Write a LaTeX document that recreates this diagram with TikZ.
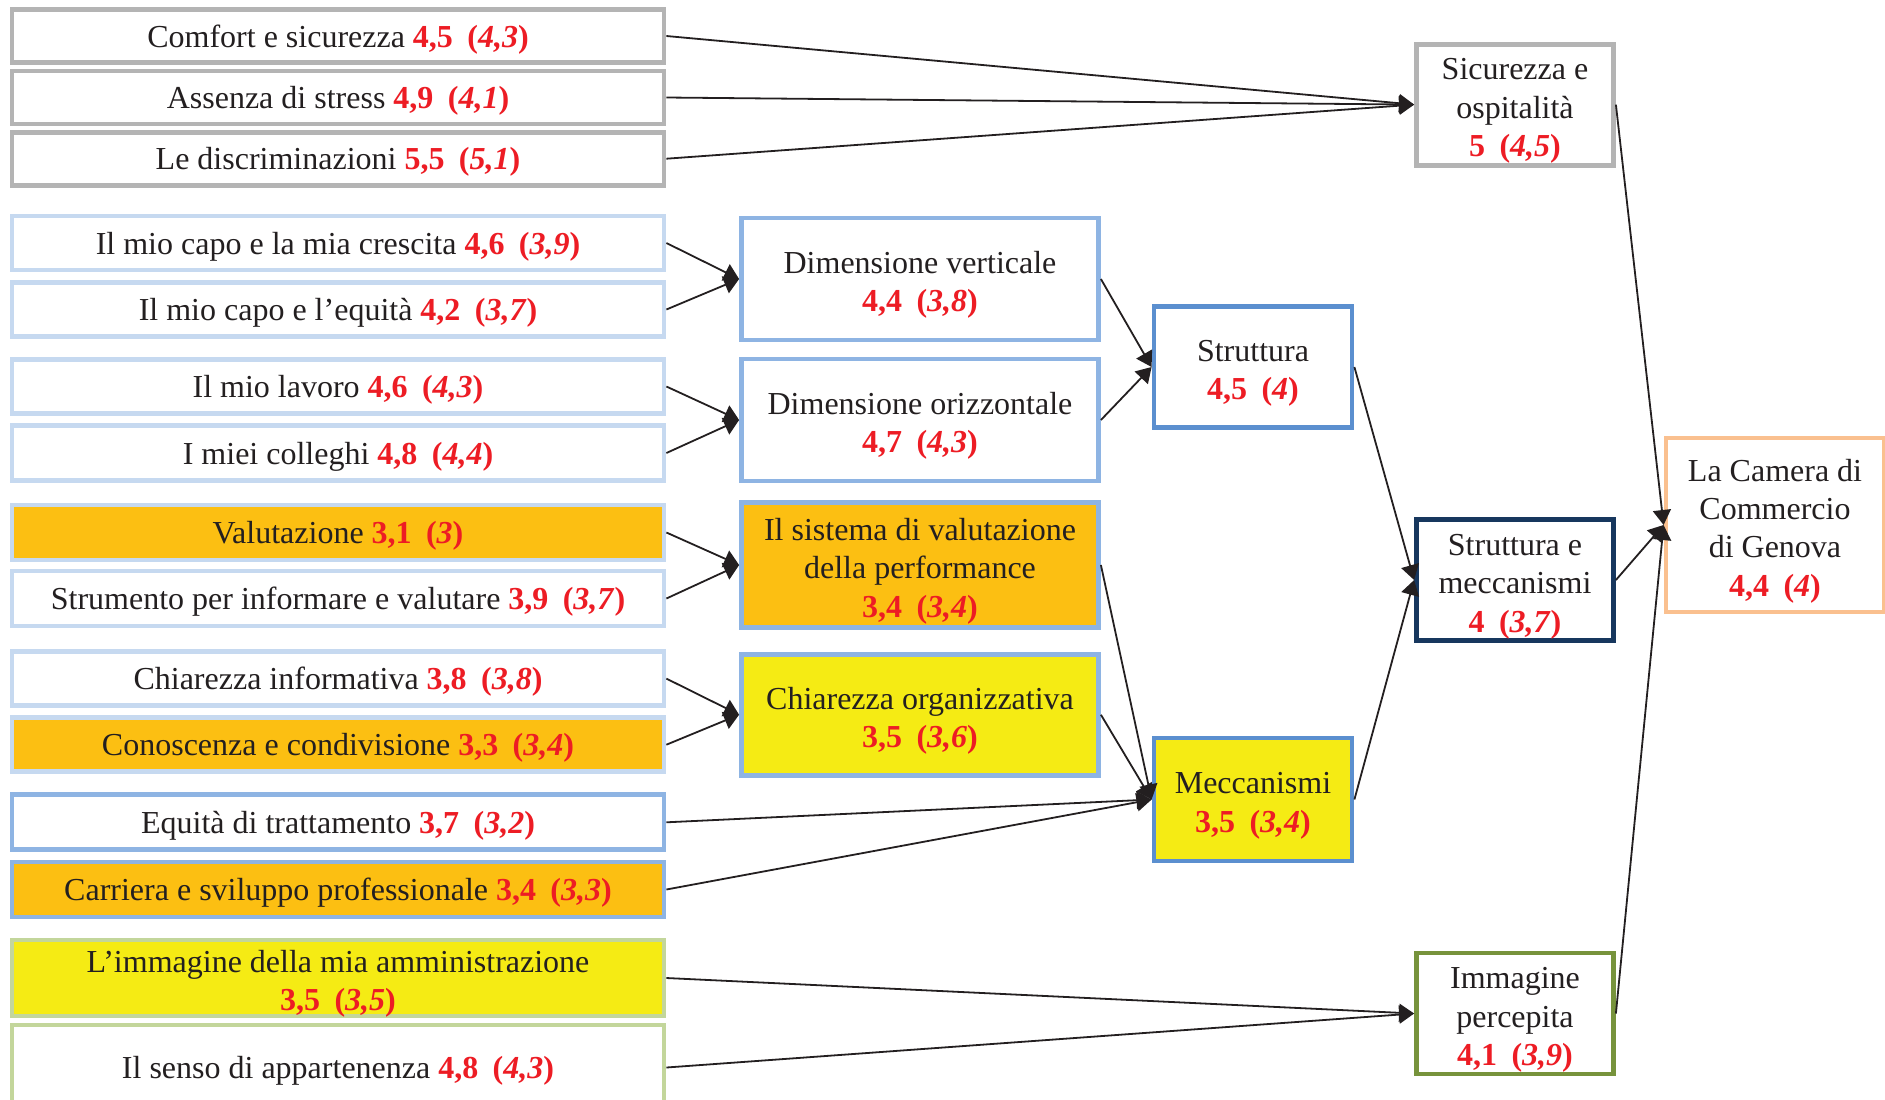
\documentclass[tikz,border=0pt]{standalone}
\usepackage{fontspec}
\setmainfont{Liberation Serif}
\usetikzlibrary{arrows.meta}
\definecolor{numred}{HTML}{ED1C24}
\definecolor{txt}{HTML}{231F20}
\definecolor{greyb}{HTML}{B4B4B4}
\definecolor{lblue}{HTML}{C6D9F0}
\definecolor{mblue}{HTML}{8EB4E3}
\definecolor{sblue}{HTML}{5B8FCF}
\definecolor{navy}{HTML}{17375E}
\definecolor{olive}{HTML}{77933C}
\definecolor{peach}{HTML}{FAC08F}
\definecolor{lgreen}{HTML}{C3D69B}
\definecolor{orangef}{HTML}{FCBF12}
\definecolor{yellowf}{HTML}{F5EB14}
\newcommand{\vv}[2]{\textcolor{numred}{\textbf{#1}\hspace{0.45em}\textbf{(\textit{#2})}}}
% text block shifted down by #1 (relative to plain centring)
\newcommand{\tx}[2][1.8pt]{\raisebox{0pt}[\height][\dimexpr\depth-#1-#1\relax]{\begin{tabular}{@{}c@{}}#2\end{tabular}}}
\begin{document}
\begin{tikzpicture}[x=0.5pt,y=-0.5pt,
  box/.style={draw, line width=2.4pt, inner sep=0pt, outer sep=1.2pt, align=center,
    text=txt, font=\fontsize{16}{19.2}\selectfont, fill=white},
  lbox/.style={box, minimum width=326pt},
  mbox/.style={box, draw=mblue, minimum width=178.5pt},
  sbox/.style={box, draw=sblue, minimum width=99pt},
  rbox/.style={box, minimum width=98.5pt, minimum height=60.5pt},
  conn/.style={draw=txt, line width=0.9pt, -{Triangle[length=7.5pt,width=9pt]}}
]
\useasboundingbox (0,0) rectangle (1885,1099);
% left column
\node[lbox, draw=greyb, minimum height=26.5pt] (b1) at (338,36) {\tx{Comfort e sicurezza \vv{4,5}{4,3}}};
\node[lbox, draw=greyb, minimum height=26.5pt] (b2) at (338,97.5) {\tx{Assenza di stress \vv{4,9}{4,1}}};
\node[lbox, draw=greyb, minimum height=26.5pt] (b3) at (338,158.7) {\tx{Le discriminazioni \vv{5,5}{5,1}}};
\node[lbox, draw=lblue, minimum height=27pt] (b4) at (338,243) {\tx{Il mio capo e la mia crescita \vv{4,6}{3,9}}};
\node[lbox, draw=lblue, minimum height=27pt] (b5) at (338,309.5) {\tx{Il mio capo e l’equità \vv{4,2}{3,7}}};
\node[lbox, draw=lblue, minimum height=27pt] (b6) at (338,386.5) {\tx{Il mio lavoro \vv{4,6}{4,3}}};
\node[lbox, draw=lblue, minimum height=27.5pt] (b7) at (338,453) {\tx{I miei colleghi \vv{4,8}{4,4}}};
\node[lbox, draw=lblue, fill=orangef, minimum height=27.5pt] (b8) at (338,532.5) {\tx{Valutazione \vv{3,1}{3}}};
\node[lbox, draw=lblue, minimum height=27.5pt] (b9) at (338,598.5) {\tx{Strumento per informare e valutare \vv{3,9}{3,7}}};
\node[lbox, draw=lblue, minimum height=27pt] (b10) at (338,678.6) {\tx{Chiarezza informativa \vv{3,8}{3,8}}};
\node[lbox, draw=lblue, fill=orangef, minimum height=27pt] (b11) at (338,744.7) {\tx{Conoscenza e condivisione \vv{3,3}{3,4}}};
\node[lbox, draw=mblue, minimum height=27.5pt] (b12) at (338,822.3) {\tx{Equità di trattamento \vv{3,7}{3,2}}};
\node[lbox, draw=mblue, fill=orangef, minimum height=27.5pt] (b13) at (338,889.5) {\tx{Carriera e sviluppo professionale \vv{3,4}{3,3}}};
\node[lbox, draw=lgreen, fill=yellowf, minimum height=38pt] (b14) at (338,978) {\tx[3pt]{L’immagine della mia amministrazione\\\vv{3,5}{3,5}}};
\node[lbox, draw=lgreen, minimum height=42.5pt] (b15) at (338,1067.5) {\tx{Il senso di appartenenza \vv{4,8}{4,3}}};
% middle column
\node[mbox, minimum height=61pt] (dv) at (920,279) {\tx[3pt]{Dimensione verticale\\\vv{4,4}{3,8}}};
\node[mbox, minimum height=61pt] (do) at (920,420) {\tx[3pt]{Dimensione orizzontale\\\vv{4,7}{4,3}}};
\node[mbox, fill=orangef, minimum height=62.5pt] (sv) at (920,565) {\tx[3pt]{Il sistema di valutazione\\della performance\\\vv{3,4}{3,4}}};
\node[mbox, fill=yellowf, minimum height=60.5pt] (co) at (920,714.7) {\tx[3pt]{Chiarezza organizzativa\\\vv{3,5}{3,6}}};
% struttura / meccanismi
\node[sbox, minimum height=60.5pt] (st) at (1253,367) {\tx[3pt]{Struttura\\\vv{4,5}{4}}};
\node[sbox, fill=yellowf, minimum height=61.5pt] (me) at (1253,799.5) {\tx[3pt]{Meccanismi\\\vv{3,5}{3,4}}};
% right column
\node[rbox, draw=greyb] (si) at (1515,104.6) {\tx[3pt]{Sicurezza e\\ospitalità\\\vv{5}{4,5}}};
\node[rbox, draw=navy] (sm) at (1515,580) {\tx[3pt]{Struttura e\\meccanismi\\\vv{4}{3,7}}};
\node[rbox, draw=olive] (im) at (1515,1013.5) {\tx[3pt]{Immagine\\percepita\\\vv{4,1}{3,9}}};
\node[box, draw=peach, minimum width=109pt, minimum height=87pt] (ca) at (1775,525) {\tx[3pt]{La Camera di\\Commercio\\di Genova\\\vv{4,4}{4}}};
% connectors
\draw[conn] (b1.east) -- (si.west);
\draw[conn] (b2.east) -- (si.west);
\draw[conn] (b3.east) -- (si.west);
\draw[conn] (b4.east) -- (dv.west);
\draw[conn] (b5.east) -- (dv.west);
\draw[conn] (b6.east) -- (do.west);
\draw[conn] (b7.east) -- (do.west);
\draw[conn] (b8.east) -- (sv.west);
\draw[conn] (b9.east) -- (sv.west);
\draw[conn] (b10.east) -- (co.west);
\draw[conn] (b11.east) -- (co.west);
\draw[conn] (dv.east) -- (st.west);
\draw[conn] (do.east) -- (st.west);
\draw[conn] (sv.east) -- (me.west);
\draw[conn] (co.east) -- (me.west);
\draw[conn] (b12.east) -- (me.west);
\draw[conn] (b13.east) -- (me.west);
\draw[conn] (st.east) -- (sm.west);
\draw[conn] (me.east) -- (sm.west);
\draw[conn] (si.east) -- (ca.west);
\draw[conn] (sm.east) -- (ca.west);
\draw[conn] (im.east) -- (ca.west);
\draw[conn] (b14.east) -- (im.west);
\draw[conn] (b15.east) -- (im.west);
\end{tikzpicture}
\end{document}
